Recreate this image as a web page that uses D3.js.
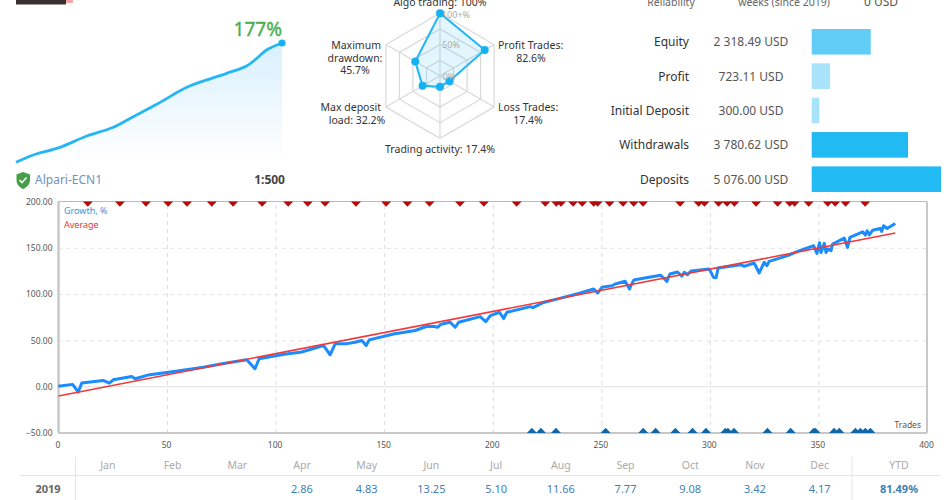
<!DOCTYPE html>
<html>
<head>
<meta charset="utf-8">
<script src="https://cdnjs.cloudflare.com/ajax/libs/d3/7.8.5/d3.min.js"></script>
<style>
html, body { margin: 0; padding: 0; background: #fff; overflow: hidden; }
text { font-family: "Noto Sans", Tahoma, sans-serif; }
</style>
</head>
<body>
<svg id="chart" width="950" height="500"></svg>
<script>
// growth curve, [trade, growth %]
var growthTrades = [0,0.7,6.5,9.1,10.7,20.6,23.4,25.3,33.7,35.3,42,49.9,58,66.7,76,86.7,90.5,92.4,104,112,122,125.1,127.4,133,136.6,139.7,141.7,143.1,154.3,164.3,169.7,173,174.7,175.8,178.1,180.4,182.7,184.3,194.2,196.8,198.9,203.1,205,206.5,217.3,218.5,223.4,232.6,240,246.5,248.3,250.3,254.9,256.4,261,263,263.6,265,271.3,277.4,280.2,281.6,285.1,287.1,288.2,289.7,291.3,299.7,301.7,302.9,303.8,314.3,315.8,320.4,322.7,325,326.3,327.3,335.8,340.4,347.8,349.3,350.5,351.2,352.7,353.5,354.5,355.8,356.5,361.9,363.4,364.5,370.4,371.6,372.4,373.4,375,378.5,379.1,380,381.6,385.4];
var growthValues = [0,0.8,2.5,-5.8,3.9,6.8,3.9,7.5,11.1,8.6,13,15.4,18,21.1,25,29.1,19.4,30.2,35,37.5,44.5,34.5,46.3,46.5,48,49.9,44.5,50.6,57,60.7,65.3,65,64.2,67,68.5,69.6,64.2,69.6,75.7,70.3,76.8,80.4,73.6,80.4,86.5,85.5,91,96.5,101,105.5,101.2,107.3,109,110.9,113.8,105.5,109.1,115.2,118,120.3,113.8,121.7,123.9,119.5,123.5,121,124.9,127.1,118,118,128.2,131.8,130,133.6,122.8,134.3,130.7,135.4,141.5,146.1,152.2,144,155.5,145,154.8,145,149,146.8,154,160.5,150.4,161.2,167.3,163.7,168.4,164,169,170.9,167.7,173.8,170.9,176.3];
var averageTrades = [0, 385.4];
var averageValues = [-10, 165.9];
var sellTrades = [13.5,28.3,40.3,50.5,59.2,70.6,80.4,93.8,105.8,114.8,122.8,137,150.9,160.7,170.9,184.9,195.9,211,224.2,229.3,231.4,237,241.2,246.5,248.3,253.8,260,264.9,269.2,286.3,294.8,297.5,304,307.9,311.3,321.3,331.2,336.8,339,345.5,354.3,357.7,362.5,371.5];
var buyTrades = [218,222.2,229.1,252,269.3,275,284.1,292,298.2,307.1,308.3,311.1,326.5,337.2,347.8,348.6,357.2,359.6,367,369.3,371.6,373.9];

// small equity preview
var miniT = [0,6.5,16.5,26.6,36.6,44.1,52.9,64.2,71.7,79.2,86.7,90.5,94.2,100];
var miniV = [0,10.9,22.2,39,51.9,67.7,86,111.3,122.2,132,142.9,154.2,166.6,177];

// radar
var radarLabels = [["Algo trading: 100%"],["Profit Trades:","82.6%"],["Loss Trades:","17.4%"],["Trading activity: 17.4%"],["Max deposit","load: 32.2%"],["Maximum","drawdown:","45.7%"]];
var radarValues = [100,82.6,17.4,17.4,32.2,45.7];
var radarRings = [25,50,75,100];
var radarTicks = ["0%","50%","100+%"];

// account bars
var barNames = ["Equity","Profit","Initial Deposit","Withdrawals","Deposits"];
var barValues = [2318.49,723.11,300,3780.62,5076];
var barTexts = ["2 318.49 USD","723.11 USD","300.00 USD","3 780.62 USD","5 076.00 USD"];
var barColors = ["#61cdf6","#a8e2fb","#a8e2fb","#21baf2","#21baf2"];

// monthly table
var months = ["Jan","Feb","Mar","Apr","May","Jun","Jul","Aug","Sep","Oct","Nov","Dec"];
var monthValues = ["","","","2.86","4.83","13.25","5.10","11.66","7.77","9.08","3.42","4.17"];

var svg = d3.select("#chart");

/* --------- HEADER BITS ---------*/
svg.append("rect").attr("x", 60).attr("y", 0).attr("width", 13).attr("height", 3).attr("fill", "#f7a5a5");
svg.append("rect").attr("x", 16).attr("y", 0).attr("width", 50).attr("height", 4.5).attr("fill", "#3a3230");

/* --------- MINI CHART ---------*/
var mx = d3.scaleLinear().domain([0, 100]).range([16, 282]);
var my = d3.scaleLinear().domain([0, 177]).range([162.3, 43]);
var defs = svg.append("defs");
var grad = defs.append("linearGradient").attr("id", "miniFill").attr("x1", 0).attr("y1", 0).attr("x2", 0).attr("y2", 1);
grad.append("stop").attr("offset", "0%").attr("stop-color", "#d9f0fe");
grad.append("stop").attr("offset", "100%").attr("stop-color", "#ffffff");
var miniData = miniT.map(function (t, i) { return { t: t, v: miniV[i] }; });
svg.append("path").datum(miniData)
    .attr("fill", "url(#miniFill)")
    .attr("d", d3.area().curve(d3.curveCatmullRom)
        .x(function (d) { return mx(d.t); }).y0(my(0)).y1(function (d) { return my(d.v); }));
svg.append("path").datum(miniData)
    .attr("fill", "none").attr("stroke", "#26b6f4").attr("stroke-width", 2.8)
    .attr("d", d3.line().curve(d3.curveCatmullRom)
        .x(function (d) { return mx(d.t); }).y(function (d) { return my(d.v); }));
svg.append("circle").attr("cx", mx(100)).attr("cy", my(177)).attr("r", 3.6).attr("fill", "#14b2f2");
svg.append("text").attr("x", 282).attr("y", 36).attr("text-anchor", "end")
    .attr("font-size", 19).attr("fill", "#4caf50").attr("stroke", "#4caf50").attr("stroke-width", 0.4).text("177%");

// shield + broker line
svg.append("path").attr("fill", "#43a047")
    .attr("d", "M23 172 L30 174.5 L30 180 C30 185 26 187.5 23 189 C20 187.5 16.500 185 16.500 180 L16.500 174.500 Z");
svg.append("path").attr("fill", "none").attr("stroke", "#fff").attr("stroke-width", 1.6)
    .attr("d", "M19.500 180 L22 182.500 L26.500 177.500");
svg.append("text").attr("x", 35).attr("y", 184).attr("font-size", 12).attr("fill", "#6f8fbf").text("Alpari-ECN1");
svg.append("text").attr("x", 285).attr("y", 184).attr("text-anchor", "end")
    .attr("font-size", 12).attr("font-weight", "bold").attr("fill", "#444").text("1:500");

/* --------- RADAR ---------*/
var rc = [440, 75.8];
var rr = d3.scaleLinear().domain([0, 100]).range([0, 62.5]);
var radarAngle = function (i) { return i * Math.PI / 3; };
var radarPoint = function (v, i) {
    return [rc[0] + rr(v) * Math.sin(radarAngle(i)), rc[1] - rr(v) * Math.cos(radarAngle(i))];
};
var radar = svg.append("g");
radarRings.forEach(function (ring) {
    radar.append("polygon")
        .attr("points", radarValues.map(function (v, i) { return radarPoint(ring, i).join(","); }).join(" "))
        .attr("fill", "none").attr("stroke", "#d9d9d9").attr("stroke-width", 1.2);
});
radarValues.forEach(function (v, i) {
    var p = radarPoint(100, i);
    radar.append("line").attr("x1", rc[0]).attr("y1", rc[1]).attr("x2", p[0]).attr("y2", p[1])
        .attr("stroke", "#d9d9d9").attr("stroke-width", 1.2);
});
var radarPts = radarValues.map(radarPoint);
radar.append("polygon").attr("points", radarPts.map(function (p) { return p.join(","); }).join(" "))
    .attr("fill", "#26b6f4").attr("fill-opacity", 0.13)
    .attr("stroke", "#26b6f4").attr("stroke-width", 2.1);
radar.selectAll("circle").data(radarPts).enter().append("circle")
    .attr("cx", function (d) { return d[0]; }).attr("cy", function (d) { return d[1]; })
    .attr("r", 4).attr("fill", "#14b2f2");
radar.selectAll("text.tick").data(radarTicks).enter().append("text")
    .attr("class", "tick")
    .attr("x", function (d, i) { return [449, 451, 456][i]; })
    .attr("y", function (d, i) { return [80, 48, 18][i]; })
    .attr("text-anchor", "middle").attr("font-size", 9).attr("fill", "#aaa").text(function (d) { return d; });

var labelPos = [[440, 6, "middle"], [498, 49, "start"], [498, 111, "start"], [440, 153, "middle"], [381, 111, "end"], [381, 49, "end"]];
var labelCx = [null, 531, 528, null, 357, 355];
radarLabels.forEach(function (lines, i) {
    var t = svg.append("text").attr("font-size", 10.5).attr("fill", "#333");
    lines.forEach(function (s, k) {
        t.append("tspan")
            .attr("x", k === 0 || labelCx[i] === null ? labelPos[i][0] : labelCx[i])
            .attr("y", labelPos[i][1] + k * 12.5)
            .attr("text-anchor", (k === 0 || labelCx[i] === null) ? labelPos[i][2] : "middle")
            .text(s);
    });
});

/* --------- ACCOUNT BARS ---------*/
var topTexts = [["Reliability", 671, "#666"], ["weeks (since 2019)", 784, "#666"], ["0 USD", 881, "#555"]];
topTexts.forEach(function (d, i) {
    svg.append("text").attr("x", d[1]).attr("y", 6).attr("text-anchor", "middle")
        .attr("font-size", i === 2 ? 12 : 10.5).attr("fill", d[2]).text(d[0]);
});
var bx = d3.scaleLinear().domain([0, 5076]).range([811.7, 941]);
var by = d3.scaleBand().domain(barNames).range([29, 192]).paddingInner(0.255).paddingOuter(0);
svg.selectAll("rect.bar").data(barNames).enter().append("rect")
    .attr("class", "bar")
    .attr("x", bx(0)).attr("y", function (d) { return by(d); })
    .attr("width", function (d, i) { return bx(barValues[i]) - bx(0); })
    .attr("height", by.bandwidth())
    .attr("fill", function (d, i) { return barColors[i]; });
svg.selectAll("text.barname").data(barNames).enter().append("text")
    .attr("class", "barname").attr("x", 689).attr("text-anchor", "end")
    .attr("y", function (d) { return by(d) + by.bandwidth() / 2 + 4.5; })
    .attr("font-size", 12).attr("fill", "#333").text(function (d) { return d; });
svg.selectAll("text.barval").data(barNames).enter().append("text")
    .attr("class", "barval").attr("x", 751).attr("text-anchor", "middle")
    .attr("y", function (d) { return by(d) + by.bandwidth() / 2 + 4.5; })
    .attr("font-size", 12).attr("fill", "#555").text(function (d, i) { return barTexts[i]; });

/* --------- MAIN CHART ---------*/
var x = d3.scaleLinear().domain([0, 400]).range([58.5, 927]);
var y = d3.scaleLinear().domain([-50, 200]).range([433, 201.5]);
var main = svg.append("g");

main.append("g").attr("transform", "translate(0,433)")
    .call(d3.axisBottom(x).tickValues([50, 100, 150, 200, 250, 300, 350]).tickSize(-231.5).tickFormat(""))
    .call(function (g) { g.select(".domain").remove(); })
    .selectAll("line").attr("stroke", "#dcdcdc").attr("stroke-dasharray", "4,4");
main.append("g").attr("transform", "translate(58.5,0)")
    .call(d3.axisLeft(y).tickValues([50, 100, 150]).tickSize(-868.5).tickFormat(""))
    .call(function (g) { g.select(".domain").remove(); })
    .selectAll("line").attr("stroke", "#e2e2e2").attr("stroke-dasharray", "4,4");
main.append("line").attr("x1", x(0)).attr("x2", x(400)).attr("y1", y(0)).attr("y2", y(0)).attr("stroke", "#e2e2e2");

// frame
main.append("line").attr("x1", x(0)).attr("x2", x(400)).attr("y1", y(200)).attr("y2", y(200)).attr("stroke", "#bbb");
main.append("line").attr("x1", x(0)).attr("x2", x(0)).attr("y1", y(200)).attr("y2", y(-50)).attr("stroke", "#c8c8c8").attr("stroke-width", 2.5);
main.append("line").attr("x1", x(400)).attr("x2", x(400)).attr("y1", y(200)).attr("y2", y(-50)).attr("stroke", "#c8c8c8").attr("stroke-width", 2);
main.append("line").attr("x1", x(0)).attr("x2", x(400)).attr("y1", y(-50)).attr("y2", y(-50)).attr("stroke", "#c8c8c8").attr("stroke-width", 2);

var xAxis = main.append("g").attr("transform", "translate(-1,433)")
    .call(d3.axisBottom(x).tickValues(d3.range(0, 401, 50)).tickSize(0).tickPadding(9).tickFormat(d3.format("d")));
var yAxis = main.append("g").attr("transform", "translate(58.5,0)")
    .call(d3.axisLeft(y).tickValues(d3.range(-50, 201, 50)).tickSize(0).tickPadding(6).tickFormat(d3.format(".2f")));
[xAxis, yAxis].forEach(function (g) {
    g.select(".domain").remove();
    g.selectAll("text").attr("font-size", 8.5).attr("fill", "#555").attr("font-family", "Noto Sans");
});

// blue growth line, red average
var growthData = growthTrades.map(function (t, i) { return { t: t, v: growthValues[i] }; });
var line = d3.line().x(function (d) { return x(d.t); }).y(function (d) { return y(d.v); });
main.append("path").datum(growthData).attr("fill", "none")
    .attr("stroke", "#1a8cff").attr("stroke-width", 3).attr("stroke-linejoin", "round").attr("d", line);
main.append("path").datum(averageTrades.map(function (t, i) { return { t: t, v: averageValues[i] }; }))
    .attr("fill", "none").attr("stroke", "#f03a3a").attr("stroke-width", 1.6).attr("d", line);

// deal markers
var tri = d3.symbol().type(d3.symbolTriangle).size(30);
main.selectAll("path.sell").data(sellTrades).enter().append("path")
    .attr("class", "sell").attr("d", tri).attr("fill", "#b30b0b")
    .attr("transform", function (d) { return "translate(" + x(d) + "," + (y(200) + 1.8) + ") scale(1.2,-0.72)"; });
main.selectAll("path.buy").data(buyTrades).enter().append("path")
    .attr("class", "buy").attr("d", tri).attr("fill", "#0f66a8")
    .attr("transform", function (d) { return "translate(" + x(d) + "," + (y(-50) - 1.8) + ") scale(1.2,0.72)"; });

main.append("text").attr("x", 64).attr("y", 214).attr("font-size", 9).attr("fill", "#3d8fe0").text("Growth, %");
main.append("text").attr("x", 64).attr("y", 228).attr("font-size", 9).attr("fill", "#e8332f").text("Average");
main.append("text").attr("x", 921).attr("y", 428).attr("text-anchor", "end").attr("font-size", 8.5).attr("fill", "#555").text("Trades");

/* --------- MONTH TABLE ---------*/
var tx = d3.scaleBand().domain(months).range([75.5, 852]);
var tbl = svg.append("g");
tbl.append("line").attr("x1", 20).attr("x2", 941).attr("y1", 475.500).attr("y2", 475.500).attr("stroke", "#e6e6e6");
[75.5, 852].forEach(function (vx) {
    tbl.append("line").attr("x1", vx).attr("x2", vx).attr("y1", 457).attr("y2", 500).attr("stroke", "#e6e6e6");
});
tbl.selectAll("text.mon").data(months).enter().append("text")
    .attr("class", "mon").attr("x", function (d) { return tx(d) + tx.bandwidth() / 2; }).attr("y", 469)
    .attr("text-anchor", "middle").attr("font-size", 10.5).attr("fill", "#aaa").text(function (d) { return d; });
tbl.selectAll("text.val").data(months).enter().append("text")
    .attr("class", "val").attr("x", function (d) { return tx(d) + tx.bandwidth() / 2; }).attr("y", 493)
    .attr("text-anchor", "middle").attr("font-size", 11).attr("fill", "#3f7fb5").text(function (d, i) { return monthValues[i]; });
tbl.append("text").attr("x", 899).attr("y", 469).attr("text-anchor", "middle").attr("font-size", 10.5).attr("fill", "#aaa").text("YTD");
tbl.append("text").attr("x", 899).attr("y", 493).attr("text-anchor", "middle").attr("font-size", 11).attr("font-weight", "bold").attr("fill", "#3f7fb5").text("81.49%");
tbl.append("text").attr("x", 48).attr("y", 493).attr("text-anchor", "middle").attr("font-size", 11).attr("font-weight", "bold").attr("fill", "#666").text("2019");
</script>
</body>
</html>
